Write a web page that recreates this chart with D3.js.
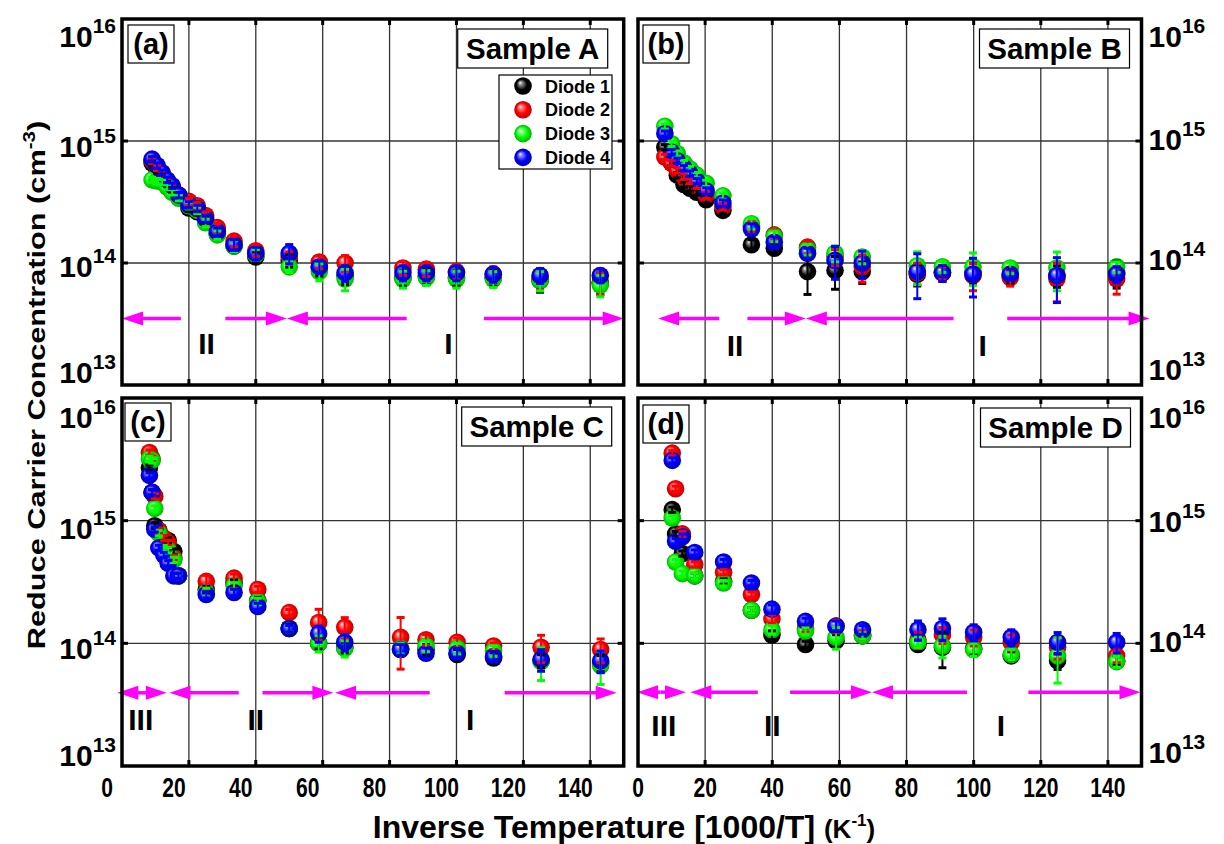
<!DOCTYPE html>
<html><head><meta charset="utf-8">
<script src="https://cdn.jsdelivr.net/npm/d3@7"></script>
<style>
body{margin:0;background:#fff}
text{font-family:'Liberation Sans',Arial,sans-serif;font-weight:bold;fill:#000}
</style>
</head><body>
<svg id="chart" width="1224" height="844"></svg>
<script>
// ---------------- data ----------------
const diodeNames = ["Diode 1", "Diode 2", "Diode 3", "Diode 4"];
const diodeColors = ["#000000", "#ff0000", "#00ff00", "#0000ff"];
const xTicks = [0, 20, 40, 60, 80, 100, 120, 140];
const yTicks = [1e13, 1e14, 1e15, 1e16];

// Sample A
const xA = [9, 10.5, 12, 13.5, 15, 17, 20, 22.5, 25, 28.5, 33.5, 40, 50, 59, 66.7, 84, 91, 100, 111, 125, 143];
const A_d1 = [6.6e14, 5.75e14, 5.25e14, 4.47e14, 3.98e14, 3.47e14, 2.82e14, 2.63e14, 2.24e14, 1.74e14, 1.38e14, 1.12e14, 1.05e14, 9.1e13, 7.9e13, 7.6e13, 7.8e13, 7.6e13, 7.6e13, 7.2e13, 6.9e13];
const A_d2 = [6.9e14, 6.0e14, 5.4e14, 4.7e14, 4.2e14, 3.6e14, 3.2e14, 2.95e14, 2.45e14, 1.95e14, 1.51e14, 1.26e14, 1.12e14, 1.02e14, 1.0e14, 9.1e13, 8.9e13, 8.5e13, 8.1e13, 7.4e13, 6.9e13];
const A_d3 = [4.8e14, 4.7e14, 4.6e14, 4.2e14, 3.8e14, 3.4e14, 2.95e14, 2.7e14, 2.14e14, 1.7e14, 1.38e14, 1.17e14, 9.3e13, 8.5e13, 7.4e13, 7.4e13, 7.6e13, 7.4e13, 7.4e13, 7.2e13, 6.6e13];
const A_d4 = [7.1e14, 6.3e14, 5.5e14, 4.8e14, 4.3e14, 3.6e14, 3.0e14, 2.8e14, 2.3e14, 1.8e14, 1.41e14, 1.2e14, 1.2e14, 9.3e13, 8.3e13, 8.3e13, 8.3e13, 8.3e13, 8.1e13, 7.9e13, 7.9e13];
// relative errors
const A_e1 = [0.05,0.05,0.05,0.05,0.05,0.05,0.06,0.06,0.07,0.08,0.1,0.1,0.12,0.14,0.16,0.15,0.15,0.15,0.15,0.2,0.2];
const A_e2 = [0.05,0.05,0.05,0.05,0.05,0.05,0.06,0.06,0.07,0.08,0.1,0.1,0.1,0.12,0.15,0.13,0.13,0.14,0.14,0.18,0.2];
const A_e3 = [0.05,0.05,0.05,0.05,0.05,0.05,0.06,0.06,0.07,0.08,0.1,0.1,0.1,0.16,0.2,0.16,0.14,0.16,0.15,0.18,0.2];
const A_e4 = [0.05,0.05,0.05,0.05,0.05,0.05,0.06,0.06,0.07,0.08,0.1,0.12,0.18,0.12,0.15,0.14,0.14,0.14,0.14,0.14,0.13];

// Sample B
const xB = [8, 10, 11.7, 13.7, 15.5, 17.5, 20.3, 25.3, 33.8, 40.6, 50.5, 58.7, 66.8, 83.2, 90.7, 99.8, 110.9, 124.8, 142.6];
const B_d1 = [8.9e14, 6.6e14, 5.25e14, 4.4e14, 4.1e14, 3.8e14, 3.3e14, 2.7e14, 1.41e14, 1.32e14, 8.5e13, 8.7e13, 8.5e13, 8.1e13, 8.3e13, 8.3e13, 7.9e13, 7.9e13, 8.3e13];
const B_d2 = [7.4e14, 6.6e14, 5.75e14, 5.1e14, 4.7e14, 4.3e14, 3.6e14, 2.9e14, 2.0e14, 1.7e14, 1.35e14, 1.12e14, 9.3e13, 8.3e13, 8.3e13, 7.9e13, 7.6e13, 7.4e13, 7.4e13];
const B_d3 = [1.32e15, 9.5e14, 7.9e14, 6.6e14, 5.9e14, 5.25e14, 4.5e14, 3.55e14, 2.1e14, 1.66e14, 1.29e14, 1.2e14, 1.12e14, 9.5e13, 9.3e13, 9.3e13, 9.1e13, 9.1e13, 9.3e13];
const B_d4 = [1.15e15, 8.1e14, 6.9e14, 6.0e14, 5.4e14, 4.7e14, 3.9e14, 3.1e14, 1.9e14, 1.48e14, 1.2e14, 1.05e14, 1.0e14, 8.5e13, 8.3e13, 8.1e13, 8.1e13, 7.9e13, 8.1e13];
const B_e1 = [0.05,0.05,0.05,0.05,0.05,0.05,0.06,0.06,0.1,0.1,0.35,0.3,0.2,0.2,0.15,0.2,0.15,0.2,0.25];
const B_e2 = [0.05,0.05,0.05,0.05,0.05,0.05,0.06,0.06,0.1,0.1,0.12,0.15,0.25,0.2,0.12,0.25,0.15,0.35,0.25];
const B_e3 = [0.05,0.05,0.05,0.05,0.05,0.05,0.06,0.06,0.1,0.1,0.1,0.15,0.12,0.3,0.1,0.3,0.1,0.35,0.1];
const B_e4 = [0.05,0.05,0.05,0.05,0.05,0.05,0.06,0.06,0.1,0.1,0.1,0.3,0.25,0.4,0.15,0.35,0.1,0.4,0.15];

// Sample C
const xC = [8.2, 9.0, 9.8, 11.0, 12.5, 13.8, 15.5, 16.9, 25.2, 33.5, 40.6, 50, 58.8, 66.6, 83.3, 90.9, 100.2, 111.1, 125.3, 143.1];
const C_d1 = [2.7e15, 1.7e15, 9.1e14, 8.3e14, 7.2e14, 6.9e14, 5.6e14, 3.55e14, 2.75e14, 3.1e14, 2.24e14, 1.32e14, 1.0e14, 9.3e13, 8.9e13, 8.9e13, 8.1e13, 7.6e13, 7.2e13, 6.9e13];
const C_d2 = [3.6e15, 3.2e15, 1.58e15, 8.3e14, 7.2e14, 6.6e14, 5.0e14, 3.55e14, 3.2e14, 3.4e14, 2.75e14, 1.78e14, 1.48e14, 1.35e14, 1.12e14, 1.07e14, 1.02e14, 9.5e13, 9.3e13, 8.9e13];
const C_d3 = [3.2e15, 3.1e15, 1.26e15, 7.9e14, 6.0e14, 5.75e14, 4.8e14, 3.55e14, 2.6e14, 2.95e14, 2.2e14, 1.32e14, 1.0e14, 9.1e13, 9.1e13, 9.5e13, 9.1e13, 8.7e13, 7.1e13, 6.6e13];
const C_d4 = [2.34e15, 1.7e15, 8.5e14, 6.0e14, 5.25e14, 4.5e14, 3.55e14, 3.55e14, 2.5e14, 2.6e14, 2.0e14, 1.32e14, 1.2e14, 1.02e14, 8.9e13, 8.3e13, 8.3e13, 7.8e13, 7.4e13, 7.2e13];
const C_e1 = [0.05,0.05,0.05,0.05,0.05,0.05,0.05,0.05,0.06,0.06,0.06,0.08,0.1,0.1,0.1,0.1,0.1,0.1,0.12,0.15];
const C_e2 = [0.05,0.05,0.05,0.05,0.05,0.05,0.05,0.05,0.12,0.08,0.06,0.06,0.28,0.2,0.45,0.1,0.08,0.06,0.25,0.22];
const C_e3 = [0.05,0.05,0.05,0.05,0.05,0.05,0.05,0.05,0.08,0.06,0.06,0.06,0.15,0.15,0.1,0.1,0.1,0.1,0.3,0.3];
const C_e4 = [0.05,0.05,0.05,0.05,0.05,0.05,0.05,0.05,0.06,0.06,0.06,0.06,0.15,0.15,0.1,0.1,0.1,0.1,0.2,0.2];

// Sample D
const xD = [10.2, 11.2, 13.2, 16.9, 25.5, 33.8, 39.9, 49.9, 59, 66.9, 83.4, 90.7, 100, 111.2, 125, 142.6];
const D_d1 = [1.23e15, 7.8e14, 5.4e14, 3.55e14, 3.2e14, 1.86e14, 1.17e14, 9.8e13, 1.05e14, 1.15e14, 9.8e13, 9.3e13, 9.1e13, 7.9e13, 7.2e13, 7.2e13];
const D_d2 = [3.55e15, 1.82e15, 7.8e14, 4.4e14, 3.8e14, 2.5e14, 1.58e14, 1.32e14, 1.38e14, 1.17e14, 1.07e14, 1.17e14, 1.12e14, 1.02e14, 9.3e13, 7.9e13];
const D_d3 = [1.05e15, 4.6e14, 3.7e14, 3.55e14, 3.1e14, 1.86e14, 1.29e14, 1.26e14, 1.12e14, 1.15e14, 1.02e14, 9.5e13, 8.9e13, 8.1e13, 7.9e13, 7.1e13];
const D_d4 = [3.1e15, 6.8e14, 7.4e14, 5.5e14, 4.6e14, 3.1e14, 1.9e14, 1.51e14, 1.38e14, 1.29e14, 1.29e14, 1.32e14, 1.23e14, 1.12e14, 1.02e14, 1.02e14];
const D_e1 = [0.05,0.05,0.05,0.05,0.05,0.05,0.08,0.06,0.12,0.06,0.1,0.32,0.12,0.08,0.15,0.08];
const D_e2 = [0.05,0.05,0.05,0.05,0.05,0.05,0.08,0.06,0.12,0.08,0.15,0.15,0.15,0.15,0.2,0.12];
const D_e3 = [0.05,0.05,0.05,0.05,0.05,0.05,0.08,0.06,0.2,0.06,0.1,0.2,0.12,0.1,0.4,0.1];
const D_e4 = [0.05,0.05,0.05,0.05,0.05,0.05,0.08,0.06,0.1,0.08,0.18,0.2,0.15,0.15,0.2,0.18];

// region arrows [from x, to x (arrow tip)] and region labels
const arrowsA = [[17.6, 0], [30.9, 49.3], [85.1, 49.3], [108.2, 150]];
const arrowsB = [[24.2, 6], [32.6, 50], [94, 50], [110, 152.4]];
const arrowsC = [[7.6, -1.4], [7.6, 13.4], [34.9, 14.2], [42, 63.2], [92, 63.7], [114.4, 147.9]];
const arrowsD = [[6.7, -0.3], [6.7, 14.3], [35.7, 15.6], [45.3, 69.7], [98, 69.7], [116.3, 149.7]];
const arrowLevel = [3.5e13, 3.5e13, 3.95e13, 4.0e13];
const regionsA = [["II", 25.3], ["I", 97.6]];
const regionsB = [["II", 28.9], ["I", 102.7]];
const regionsC = [["III", 5.6], ["II", 40], ["I", 104.1]];
const regionsD = [["III", 7.7], ["II", 40], ["I", 108.1]];
const regionLevel = [2.2e13, 2.1e13, 2.4e13, 2.15e13];
const panelTags = ["(a)", "(b)", "(c)", "(d)"];
const sampleNames = ["Sample A", "Sample B", "Sample C", "Sample D"];

// ---------------- drawing ----------------
const svg = d3.select("#chart");
const defs = svg.append("defs");
const gradStops = [
  ["#ffffff", "#9a9a9a", "#000000", "#000000"],
  ["#ffffff", "#ff9090", "#ff0000", "#c00000"],
  ["#ffffff", "#a0ffa0", "#00ff00", "#00b400"],
  ["#ffffff", "#9090ff", "#0000ff", "#0000b0"]
];
gradStops.forEach((s, i) => {
  const g = defs.append("radialGradient").attr("id", "ball" + i)
    .attr("cx", "50%").attr("cy", "50%").attr("r", "50%").attr("fx", "33%").attr("fy", "30%");
  [0, 0.18, 0.6, 1].forEach((o, k) => g.append("stop").attr("offset", o).attr("stop-color", s[k]));
});

const panels = [
  {box: [122, 623.7, 19, 385], x: xA, ys: [A_d1, A_d2, A_d3, A_d4], es: [A_e1, A_e2, A_e3, A_e4], arrows: arrowsA, regions: regionsA,
   side: "left", xlab: false, tag: [6, 6], sample: [-166, 10], legend: true},
  {box: [638, 1141.5, 19, 385], x: xB, ys: [B_d1, B_d2, B_d3, B_d4], es: [B_e1, B_e2, B_e3, B_e4], arrows: arrowsB, regions: regionsB,
   side: "right", xlab: false, tag: [5, 6], sample: [-162, 10], legend: false},
  {box: [122, 623.7, 398, 766], x: xC, ys: [C_d1, C_d2, C_d3, C_d4], es: [C_e1, C_e2, C_e3, C_e4], arrows: arrowsC, regions: regionsC,
   side: "left", xlab: true, xlabShift: -15, tag: [3, 5], sample: [-162, 9], legend: false},
  {box: [638, 1141.5, 398, 766], x: xD, ys: [D_d1, D_d2, D_d3, D_d4], es: [D_e1, D_e2, D_e3, D_e4], arrows: arrowsD, regions: regionsD,
   side: "right", xlab: true, xlabShift: 0, tag: [5, 7], sample: [-161, 10], legend: false}
];

panels.forEach((p, pi) => {
  const [L, R, T, B] = p.box;
  const x = d3.scaleLinear().domain([0, 150]).range([L, R]);
  const y = d3.scaleLog().domain([1e13, 1e16]).range([B, T]);
  const g = svg.append("g");

  // grid
  g.selectAll(".vg").data(xTicks.filter(t => t > 0)).join("line")
    .attr("x1", d => x(d)).attr("x2", d => x(d)).attr("y1", T).attr("y2", B)
    .attr("stroke", "#333").attr("stroke-width", 1.3);
  g.selectAll(".hg").data(yTicks.filter(t => t > 1e13 && t < 1e16)).join("line")
    .attr("y1", d => y(d)).attr("y2", d => y(d)).attr("x1", L).attr("x2", R)
    .attr("stroke", "#333").attr("stroke-width", 1.3);

  // ticks (inward)
  xTicks.filter(t => t > 0).forEach(t => {
    g.append("line").attr("x1", x(t)).attr("x2", x(t)).attr("y1", T).attr("y2", T + 6).attr("stroke", "#000").attr("stroke-width", 3);
    g.append("line").attr("x1", x(t)).attr("x2", x(t)).attr("y1", B).attr("y2", B - 6).attr("stroke", "#000").attr("stroke-width", 3);
  });
  yTicks.filter(t => t > 1e13 && t < 1e16).forEach(t => {
    g.append("line").attr("x1", L).attr("x2", L + 6).attr("y1", y(t)).attr("y2", y(t)).attr("stroke", "#000").attr("stroke-width", 3);
    g.append("line").attr("x1", R).attr("x2", R - 6).attr("y1", y(t)).attr("y2", y(t)).attr("stroke", "#000").attr("stroke-width", 3);
  });

  // arrows
  const ay = y(arrowLevel[pi]);
  p.arrows.forEach(([a, b]) => {
    const x1 = x(a), x2 = x(b), dir = Math.sign(x2 - x1);
    g.append("line").attr("x1", x1).attr("x2", x2 - dir * 14).attr("y1", ay).attr("y2", ay)
      .attr("stroke", "#ff00ff").attr("stroke-width", 3.5);
    g.append("path").attr("d", `M${x2},${ay} L${x2 - dir * 21},${ay - 7} L${x2 - dir * 21},${ay + 7} Z`).attr("fill", "#ff00ff");
  });
  // region labels
  p.regions.forEach(([s, xv]) => {
    g.append("text").attr("x", x(xv)).attr("y", y(regionLevel[pi])).attr("dy", "0.36em")
      .attr("text-anchor", "middle").attr("font-size", 30).text(s);
  });

  // markers
  p.ys.forEach((ys, di) => {
    g.append("g").selectAll("circle").data(p.x.map((xv, i) => [xv, ys[i]])).join("circle")
      .attr("cx", d => x(d[0])).attr("cy", d => y(d[1])).attr("r", 8.8)
      .attr("fill", `url(#ball${di})`);
  });
  // error bars
  p.ys.forEach((ys, di) => {
    const eg = g.append("g").attr("stroke", diodeColors[di]);
    p.x.forEach((xv, i) => {
      const v = ys[i], e = p.es[di][i];
      const cx = x(xv), y1 = y(v * (1 + e)), y2 = y(v * (1 - e));
      eg.append("line").attr("x1", cx).attr("x2", cx).attr("y1", y1).attr("y2", y2).attr("stroke-width", 2);
      eg.append("line").attr("x1", cx - 4).attr("x2", cx + 4).attr("y1", y1).attr("y2", y1).attr("stroke-width", 3);
      eg.append("line").attr("x1", cx - 4).attr("x2", cx + 4).attr("y1", y2).attr("y2", y2).attr("stroke-width", 3);
    });
  });

  // frame
  g.append("rect").attr("x", L).attr("y", T).attr("width", R - L).attr("height", B - T)
    .attr("fill", "none").attr("stroke", "#000").attr("stroke-width", 3.5);

  // tag box
  const tx = L + p.tag[0], ty = T + p.tag[1];
  g.append("rect").attr("x", tx).attr("y", ty).attr("width", 46).attr("height", 38)
    .attr("fill", "#fff").attr("stroke", "#000").attr("stroke-width", 1.2);
  g.append("text").attr("x", tx + 23).attr("y", ty + 29).attr("text-anchor", "middle").attr("font-size", 29).text(panelTags[pi]);
  // sample box
  const sx = R + p.sample[0], sy = T + p.sample[1];
  g.append("rect").attr("x", sx).attr("y", sy).attr("width", 150).attr("height", 39)
    .attr("fill", "#fff").attr("stroke", "#000").attr("stroke-width", 1.2);
  g.append("text").attr("x", sx + 75).attr("y", sy + 30).attr("text-anchor", "middle").attr("font-size", 29.5).text(sampleNames[pi]);

  // legend
  if (p.legend) {
    const lx = 499, ly = 75;
    g.append("rect").attr("x", lx).attr("y", ly).attr("width", 113).attr("height", 94)
      .attr("fill", "#fff").attr("stroke", "#000").attr("stroke-width", 1.2);
    diodeNames.forEach((n, i) => {
      const cy = ly + 11 + i * 23.8;
      g.append("circle").attr("cx", lx + 24).attr("cy", cy).attr("r", 8.8).attr("fill", `url(#ball${i})`);
      g.append("text").attr("x", lx + 46).attr("y", cy + 6.5).attr("font-size", 18).text(n);
    });
  }

  // y tick labels
  const offs = p.side === "left" ? {13: -2, 14: 14, 15: 16, 16: 28} : {13: -5, 14: 7, 15: 9, 16: 28};
  yTicks.forEach(t => {
    const ex = Math.round(Math.log10(t));
    const tt = g.append("text").attr("y", y(t) + offs[ex] + (T > 100 ? 2 : 0)).attr("font-size", 30);
    if (p.side === "left") tt.attr("x", L - 6).attr("text-anchor", "end");
    else tt.attr("x", R + 7).attr("text-anchor", "start");
    tt.append("tspan").text("10");
    tt.append("tspan").attr("font-size", 21).attr("dy", -14).text(ex);
  });

  // x tick labels
  if (p.xlab) {
    xTicks.forEach(t => {
      g.append("g").attr("transform", `translate(${x(t) + p.xlabShift},797) scale(0.78,1)`)
        .append("text").attr("text-anchor", "middle").attr("font-size", 27).text(t);
    });
  }
});

// axis titles
const yt = svg.append("g").attr("transform", "translate(45,385) rotate(-90) scale(1.28,1)")
  .append("text").attr("text-anchor", "middle").attr("font-size", 24);
yt.append("tspan").text("Reduce Carrier Concentration (cm");
yt.append("tspan").attr("font-size", 16).attr("dy", -10).text("-3");
yt.append("tspan").attr("dy", 10).text(")");

const xt = svg.append("text").attr("x", 624).attr("y", 838).attr("text-anchor", "middle").attr("font-size", 32);
xt.append("tspan").text("Inverse Temperature [1000/T] ");
xt.append("tspan").attr("font-size", 26).text("(K");
xt.append("tspan").attr("font-size", 17).attr("dy", -12).text("-1");
xt.append("tspan").attr("font-size", 26).attr("dy", 12).text(")");
</script>
</body></html>
